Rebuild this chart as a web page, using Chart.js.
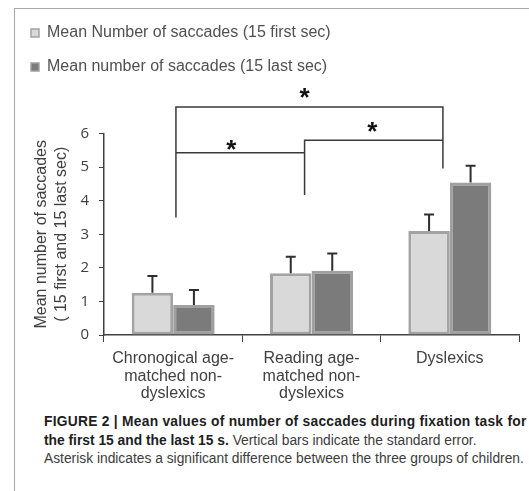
<!DOCTYPE html>
<html>
<head>
<meta charset="utf-8">
<script src="https://cdn.jsdelivr.net/npm/chart.js@4.4.0/dist/chart.umd.min.js"></script>
<style>
  html, body { margin: 0; padding: 0; background: #fff; }
  body { width: 529px; height: 491px; position: relative; overflow: hidden; }
  #frame { position: absolute; left: 14px; top: 8px; width: 530px; height: 500px;
           border-left: 1px solid #a8a8a8; border-top: 1px solid #a8a8a8; }
  #wrap { position: absolute; left: 0; top: 0; width: 529px; height: 410px; }
  #caption { position: absolute; left: 44px; top: 413px; white-space: nowrap;
             font: 13.8px/18.5px "Liberation Sans", Arial, sans-serif; color: #3c3c3c; }
  #caption b { color: #1e1e1e; }
  #caption .wide { letter-spacing: 0.26px; }
</style>
</head>
<body>
<div id="frame"></div>
<div id="wrap"><canvas id="chart" width="529" height="410"></canvas></div>
<div id="caption"><b class="wide">FIGURE 2 | Mean values of number of saccades during fixation task for</b><br><b>the first 15 and the last 15 s.</b> Vertical bars indicate the standard error.<br>Asterisk indicates a significant difference between the three groups of children.</div>
<script>
// Chart data
const categories = [
    ['Chronogical age-', 'matched non-', 'dyslexics'],
    ['Reading age-', 'matched non-', 'dyslexics'],
    ['Dyslexics']
];
const seriesNames = ['Mean Number of saccades (15 first sec)', 'Mean number of saccades (15 last sec)'];
const firstSec = [1.26, 1.84, 3.10];
const firstSecErr = [0.50, 0.49, 0.49];
const lastSec = [0.89, 1.91, 4.54];
const lastSecErr = [0.45, 0.52, 0.50];
const yTicks = [0, 1, 2, 3, 4, 5, 6];

// significance brackets in data units (x = category index, y = value)
const bracketPaths = [
    [[0.02, 3.50], [0.02, 6.79], [1.95, 6.79], [1.95, 4.96]],
    [[0.02, 5.43], [0.95, 5.43]],
    [[0.95, 4.17], [0.95, 5.80], [1.95, 5.80]]
];
const starX = [0.95, 0.42, 1.44];
const starY = [7.28, 5.71, 6.25];

const AXIS_COLOR = '#404040';
const errors = [firstSecErr, lastSecErr];

// extra room between the legend and the plot, where the brackets sit
const legendSpacer = {
    id: 'legendSpacer',
    beforeInit(chart) {
        const fit = chart.legend.fit;
        chart.legend.fit = function () {
            fit.call(this);
            this.height = 126.5;
        };
    }
};

// upper half of the standard error bars
const errorBars = {
    id: 'errorBars',
    afterDatasetsDraw(chart) {
        const { ctx, scales: { y } } = chart;
        ctx.save();
        ctx.strokeStyle = '#2e2e2e';
        ctx.lineWidth = 2;
        chart.data.datasets.forEach((ds, i) => {
            chart.getDatasetMeta(i).data.forEach((bar, j) => {
                const top = y.getPixelForValue(ds.data[j] + errors[i][j]);
                ctx.beginPath();
                ctx.moveTo(bar.x, bar.y);
                ctx.lineTo(bar.x, top);
                ctx.moveTo(bar.x - 5, top);
                ctx.lineTo(bar.x + 5, top);
                ctx.stroke();
            });
        });
        ctx.restore();
    }
};

// significance brackets and asterisks
const significance = {
    id: 'significance',
    afterDraw(chart) {
        const { ctx, scales: { x, y } } = chart;
        ctx.save();
        ctx.strokeStyle = '#3a3a3a';
        ctx.lineWidth = 1.5;
        bracketPaths.forEach(path => {
            ctx.beginPath();
            path.forEach(([vx, vy], k) => {
                const px = x.getPixelForValue(vx);
                const py = y.getPixelForValue(vy);
                if (k === 0) ctx.moveTo(px, py); else ctx.lineTo(px, py);
            });
            ctx.stroke();
        });
        const size = 26;
        ctx.fillStyle = '#111';
        ctx.font = `bold ${size}px "Liberation Sans", Arial, sans-serif`;
        ctx.textAlign = 'center';
        ctx.textBaseline = 'alphabetic';
        starX.forEach((sx, k) => {
            ctx.fillText('*', x.getPixelForValue(sx), y.getPixelForValue(starY[k]) + 0.58 * size);
        });
        ctx.restore();
    }
};

new Chart(document.getElementById('chart').getContext('2d'), {
    type: 'bar',
    data: {
        labels: categories,
        datasets: [{
            label: seriesNames[0],
            data: firstSec,
            backgroundColor: '#d9d9d9',
            borderColor: '#a3a3a3',
            borderWidth: 3,
            borderSkipped: false
        }, {
            label: seriesNames[1],
            data: lastSec,
            backgroundColor: '#7b7b7b',
            borderColor: '#a0a0a0',
            borderWidth: 3,
            borderSkipped: false
        }]
    },
    options: {
        responsive: false,
        animation: false,
        categoryPercentage: 0.6,
        barPercentage: 1.0,
        layout: { padding: { top: 7, left: 13, right: 10, bottom: 0 } },
        plugins: {
            tooltip: { enabled: false },
            legend: {
                position: 'top',
                align: 'start',
                labels: {
                    boxWidth: 8,
                    boxHeight: 8,
                    padding: 18,
                    color: '#505050',
                    font: { family: '"Liberation Sans", Arial, sans-serif', size: 16 },
                    generateLabels(chart) {
                        const items = Chart.defaults.plugins.legend.labels.generateLabels(chart);
                        items.forEach(it => { it.lineWidth = 1.5; });
                        return items;
                    }
                }
            }
        },
        scales: {
            x: {
                afterFit(scale) { scale.height = 75; },
                grid: {
                    drawOnChartArea: false,
                    drawTicks: true,
                    tickLength: 7,
                    color: AXIS_COLOR
                },
                border: { display: true, color: AXIS_COLOR, width: 1.5 },
                ticks: {
                    padding: 8,
                    color: AXIS_COLOR,
                    maxRotation: 0,
                    font: { family: '"Liberation Sans", Arial, sans-serif', size: 16, lineHeight: 1.1 }
                }
            },
            y: {
                min: 0,
                max: 6,
                afterFit(scale) { scale.width = 91; },
                afterBuildTicks(scale) { scale.ticks = yTicks.map(v => ({ value: v })); },
                grid: {
                    drawOnChartArea: false,
                    drawTicks: true,
                    tickLength: 5,
                    color: AXIS_COLOR
                },
                border: { display: true, color: AXIS_COLOR, width: 1.5 },
                ticks: {
                    padding: 10,
                    color: AXIS_COLOR,
                    font: { family: '"Open Sans", sans-serif', size: 15 }
                },
                title: {
                    display: true,
                    text: ['Mean number of saccades', '( 15 first and 15 last sec)'],
                    color: AXIS_COLOR,
                    padding: { top: 18.5, bottom: 0 },
                    font: { family: '"Liberation Sans", Arial, sans-serif', size: 16, lineHeight: 1.25 }
                }
            }
        }
    },
    plugins: [legendSpacer, errorBars, significance]
});
</script>
</body>
</html>
